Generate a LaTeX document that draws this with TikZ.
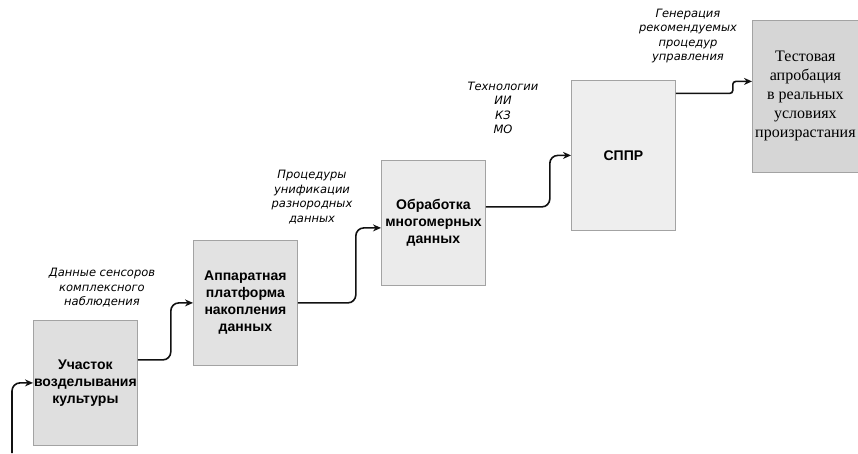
\documentclass[tikz,border=0pt]{standalone}
\usepackage{fontspec}
\setmainfont{Liberation Sans}
\newfontfamily\boxserif{Liberation Serif}
\newfontfamily\notefont{DejaVu Sans Oblique}
\usetikzlibrary{arrows.meta}
\definecolor{boxline}{HTML}{A3A3A3}
\definecolor{fieldgray}{HTML}{DFDFDF}
\definecolor{platgray}{HTML}{E2E2E2}
\definecolor{procgray}{HTML}{EBEBEB}
\definecolor{dssgray}{HTML}{EEEEEE}
\definecolor{testgray}{HTML}{D6D6D6}
\definecolor{flow}{HTML}{111111}

\begin{document}
\begin{tikzpicture}[x=1pt, y=-1pt,
    box/.style={draw=boxline, line width=0.8pt, anchor=north west, align=center,
      minimum width=104pt, minimum height=125pt, inner sep=0pt,
      font=\bfseries\fontsize{14}{17}\selectfont},
    tallbox/.style={box, minimum height=150pt},
    testbox/.style={box, minimum width=106pt, minimum height=152pt,
      font=\boxserif\fontsize{16}{19}\selectfont},
    arrow/.style={-{Stealth[length=8pt,width=7pt]}, line width=1.6pt,
      draw=flow, rounded corners=8pt},
    note/.style={align=center, text=black,
      font=\notefont\fontsize{11.5}{14.5}\selectfont}
  ]
    \useasboundingbox (0,0) rectangle (858,453);

    % stages, left to right
    \node[box, fill=fieldgray] (field) at (33,320)
      {Участок\\возделывания\\культуры};
    \node[box, fill=platgray] (platform) at (193,240)
      {Аппаратная\\платформа\\накопления\\данных};
    \node[box, fill=procgray] (process) at (381,160)
      {Обработка\\многомерных\\данных};
    \node[tallbox, fill=dssgray] (dss) at (571,80) {СППР};
    \node[testbox, fill=testgray] (test) at (752,20)
      {Тестовая\\апробация\\в реальных\\условиях\\произрастания};

    % labels over the connectors
    \node[note] (sensors) at (102,288)
      {Данные сенсоров\\комплексного\\наблюдения};
    \node[note] (unify) at (312,197)
      {Процедуры\\унификации\\разнородных\\данных};
    \node[note] (tech) at (503,108) {Технологии\\ИИ\\КЗ\\МО};
    \node[note] (gen) at (688,36)
      {Генерация\\рекомендуемых\\процедур\\управления};

    \coordinate (start) at (12,453);

    \draw[arrow] (start) |- (field.west);
    \draw[arrow] ([yshift=23pt]field.east) -- ++(33,0) |- (platform.west);
    \draw[arrow] (platform.east) -- ++(58,0) |- ([yshift=-5pt]process.west);
    \draw[arrow] ([yshift=16pt]process.east) -- ++(64,0) |- (dss.west);
    \draw[arrow, rounded corners=3pt] ([yshift=62pt]dss.east) -- ++(57,0)
      |- ([yshift=15pt]test.west);
\end{tikzpicture}
\end{document}
